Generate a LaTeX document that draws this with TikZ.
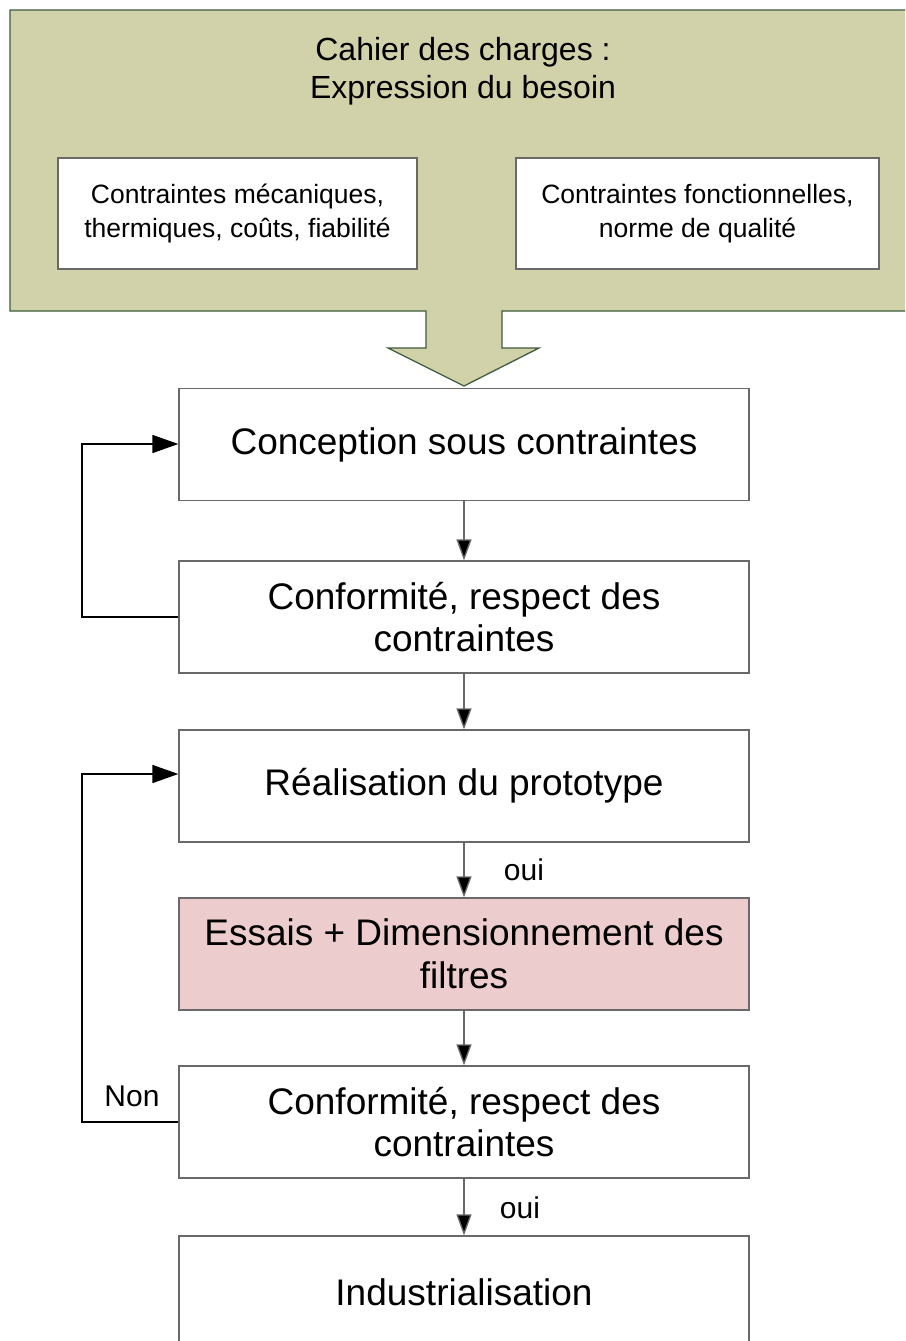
\documentclass[tikz,border=0pt]{standalone}
\usepackage{fontspec}
\setmainfont{Liberation Sans}
\usetikzlibrary{arrows.meta}
\definecolor{cdcfill}{RGB}{210,210,170}
\definecolor{cdcdraw}{RGB}{62,92,62}
\definecolor{boxdraw}{RGB}{105,105,105}
\definecolor{pinkfill}{RGB}{236,204,204}
\begin{document}
\begin{tikzpicture}[x=1pt,y=-1pt,
  stepbox/.style={draw=boxdraw,line width=1.3pt,fill=white,minimum width=570pt,minimum height=112pt,inner sep=0pt,align=center,font=\fontsize{37}{42.5}\selectfont},
  subbox/.style={draw=boxdraw,line width=1.3pt,fill=white,minimum height=111pt,inner sep=0pt,align=center,font=\fontsize{26.5}{34}\selectfont},
  down/.style={draw=boxdraw,line width=1.3pt,-{Triangle[length=21pt,width=15pt,fill=black]}},
  loop/.style={draw=black,line width=1.5pt,-{Triangle[length=26pt,width=18pt]}},
  lbl/.style={font=\fontsize{30}{34}\selectfont,inner sep=0pt}]
\useasboundingbox (0,0) rectangle (905,1341);
\clip (0,0) rectangle (905,1341);
\fill[white] (0,0) rectangle (905,1341);
% Cahier des charges block arrow
\path[fill=cdcfill,draw=cdcdraw,line width=1.3pt]
  (10,10) -- (930,10) -- (930,311) -- (502,311) -- (502,348) -- (539,348)
  -- (464,386) -- (388,348) -- (426,348) -- (426,311) -- (10,311) -- cycle;
\node[align=center,font=\fontsize{32}{38}\selectfont] (title) at (463,71) {Cahier des charges :\\Expression du besoin};
\node[subbox,minimum width=359pt] (cm) at (237.5,213.5) {Contraintes mécaniques,\\thermiques, coûts, fiabilité};
\node[subbox,minimum width=363pt] (cf) at (697.5,213.5) {Contraintes fonctionnelles,\\norme de qualité};
% Steps
\node[stepbox] (b1) at (464,444.5) {Conception sous contraintes};
\node[stepbox] (b2) at (464,617) {Conformité, respect des\\contraintes};
\node[stepbox] (b3) at (464,786) {Réalisation du prototype};
\node[stepbox,fill=pinkfill] (b4) at (464,954) {Essais + Dimensionnement des\\filtres};
\node[stepbox] (b5) at (464,1122) {Conformité, respect des\\contraintes};
\node[stepbox,minimum height=200pt,text depth=0pt] (b6) at (464,1336) {};
\node[font=\fontsize{37}{42.5}\selectfont] (b6t) at (464,1292) {Industrialisation};
% Vertical connectors
\draw[down] (b1.south) -- (b2.north);
\draw[down] (b2.south) -- (b3.north);
\draw[down] (b3.south) -- (b4.north);
\draw[down] (b4.south) -- (b5.north);
\draw[down] (b5.south) -- (b6.north);
% Feedback loops
\coordinate (l1a) at (82,617);
\coordinate (l1b) at (82,444);
\draw[loop] (b2.west) -- (l1a) -- (l1b) -- (b1.west |- l1b);
\coordinate (l2a) at (82,1122);
\coordinate (l2b) at (82,774);
\draw[loop] (b5.west) -- (l2a) -- (l2b) -- (b3.west |- l2b);
% Labels
\node[lbl] (oui1) at (524,870) {oui};
\node[lbl] (non) at (132,1096) {Non};
\node[lbl] (oui2) at (520,1208) {oui};
\end{tikzpicture}
\end{document}
